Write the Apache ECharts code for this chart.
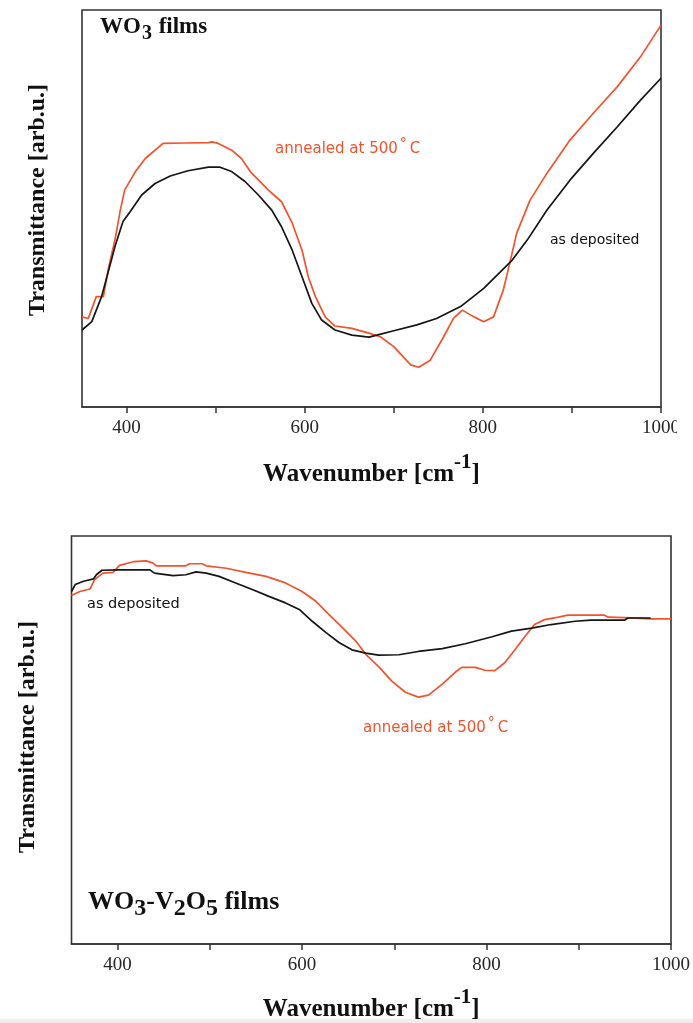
<!DOCTYPE html>
<html>
<head>
<meta charset="utf-8">
<script src="https://cdn.jsdelivr.net/npm/echarts@6/dist/echarts.min.js"></script>
<style>
  html, body { margin: 0; padding: 0; background: #ffffff; }
  #chart { width: 693px; height: 1023px; }
</style>
</head>
<body>
<div id="chart"></div>
<script>
// ---------- DATA ----------
// Top panel: WO3 films
const topWnAsDep = [350,361,372,380,387,396,404,417,432,449,469,492,505,518,533,548,563,574,586,597,608,619,634,653,672,681,700,726,748,775,801,816,833,850,872,898,924,951,977,1000];
const topTAsDep  = [19.4,21.5,27.8,34.5,40.4,46.7,49.2,53.4,56.3,58.2,59.5,60.4,60.4,59.3,56.8,53.4,49.6,45.4,39.5,32.8,26.1,21.9,19.4,18.1,17.6,18.1,19.2,20.7,22.3,25.3,29.9,33.2,37.0,42.1,49.6,57.2,63.9,70.6,77.3,82.8];

const topWnAnn = [350,357,366,374,380,387,393,398,410,421,441,465,492,496,503,518,529,539,559,574,586,597,604,612,623,634,653,672,685,700,719,728,741,756,767,777,790,801,812,823,831,838,853,872,898,924,951,977,1000];
const topTAnn  = [22.7,22.3,27.8,27.8,35.3,42.1,49.6,54.7,59.3,62.6,66.4,66.5,66.6,66.8,66.4,64.7,62.6,59.3,54.7,51.7,46.3,39.5,32.8,27.8,22.7,20.4,19.8,18.6,17.7,15.2,10.6,10.0,11.8,17.7,22.3,24.4,22.7,21.5,22.7,29.5,37.0,43.8,52.1,58.9,67.3,74.0,80.7,88.2,96.2];

// Bottom panel: WO3-V2O5 films
const botWnAsDep = [350,354,363,374,377,383,402,435,440,460,474,485,496,510,528,546,564,582,597,611,626,640,654,669,683,705,726,752,777,806,827,849,870,896,913,950,953,978];
const botTAsDep  = [86.4,88.1,88.9,89.5,90.5,91.6,91.7,91.7,90.9,90.3,90.5,91.2,90.9,90.1,88.5,86.9,85.2,83.6,82.0,79.1,76.3,73.9,72.1,71.3,70.8,70.9,71.7,72.4,73.6,75.3,76.7,77.4,78.3,79.1,79.4,79.4,79.9,79.9];

const botWnAnn = [350,359,370,375,384,395,402,417,431,438,442,474,478,492,496,518,539,561,582,600,615,629,644,658,669,683,697,712,726,737,752,766,773,788,798,809,820,831,842,852,863,878,888,928,932,950,978,1000];
const botTAnn  = [85.4,86.4,87.0,89.3,90.9,91.1,92.8,93.7,93.9,93.4,92.7,92.7,93.2,93.2,92.7,92.1,91.1,90.1,88.5,86.4,84.0,80.8,77.5,74.3,71.0,68.0,64.5,61.7,60.5,61.0,63.7,66.6,67.8,67.8,67.1,67.0,69.0,72.2,75.5,78.3,79.5,80.1,80.6,80.6,80.1,80.0,79.7,79.7];

const xTickValues  = [400,500,600,700,800,900,1000];
const xLabelValues = [400,600,800,1000];
const xMin = 350, xMax = 1000;

// ---------- STYLE ----------
const BLACK = '#151515';
const RED = '#f2532d';
const FRAME = '#333333';
const SERIF = "'Liberation Serif', 'Times New Roman', serif";
const SANS = "'DejaVu Sans', sans-serif";

function pairs(xs, ys) { return xs.map((x, i) => [x, ys[i]]); }

function xAxisFor(gridIndex, gap) {
  return {
    type: 'value', gridIndex: gridIndex, min: xMin, max: xMax,
    axisLine: { show: true, onZero: false, lineStyle: { color: FRAME, width: 1.6 } },
    axisTick: { show: true, inside: false, length: 6, customValues: xTickValues, lineStyle: { color: FRAME, width: 1.5 } },
    axisLabel: { show: true, customValues: xLabelValues, margin: 12, fontFamily: SERIF, fontSize: 19, color: '#262626',
                 formatter: function (v) { return String(v); } },
    splitLine: { show: false },
    name: '{s|Wavenumber [cm}{p|-1}{s|]}',
    nameLocation: 'middle',
    nameGap: gap,
    nameTextStyle: {
      rich: {
        s: { fontFamily: SERIF, fontWeight: 'bold', fontSize: 25, lineHeight: 25, padding: [10, 0, 0, 0], verticalAlign: 'top', color: '#111' },
        p: { fontFamily: SERIF, fontWeight: 'bold', fontSize: 21, lineHeight: 25, verticalAlign: 'top', color: '#111' }
      }
    }
  };
}

function yAxisFor(gridIndex, padLeft) {
  return {
    type: 'value', gridIndex: gridIndex, min: 0, max: 100,
    axisLine: { show: false }, axisTick: { show: false }, axisLabel: { show: false }, splitLine: { show: false },
    name: 'Transmittance [arb.u.]',
    nameLocation: 'middle', nameRotate: 90, nameGap: 32,
    nameTextStyle: { fontFamily: SERIF, fontWeight: 'bold', fontSize: 24, color: '#111', padding: [0, 0, 0, padLeft] }
  };
}

function lineSeries(name, xi, data, color) {
  return {
    type: 'line', name: name, xAxisIndex: xi, yAxisIndex: xi,
    data: data, showSymbol: false, symbol: 'none', smooth: false,
    lineStyle: { color: color, width: 1.7 }, itemStyle: { color: color },
    animation: false, z: color === RED ? 3 : 4
  };
}

const annRich = {
  t: { fontFamily: SANS, fontSize: 15, lineHeight: 16, padding: [5, 0, 0, 0], verticalAlign: 'top', fill: RED },
  d: { fontFamily: SANS, fontSize: 14, lineHeight: 16, padding: [0, 3, 0, 2], verticalAlign: 'top', fill: RED }
};

const chart = echarts.init(document.getElementById('chart'), null, { renderer: 'canvas' });
chart.setOption({
  backgroundColor: '#ffffff',
  animation: false,
  grid: [
    { left: 82, top: 10, width: 579, height: 397, show: true, borderColor: FRAME, borderWidth: 1.6, backgroundColor: 'transparent' },
    { left: 71.5, top: 536, width: 602, height: 410.7, show: true, borderColor: FRAME, borderWidth: 1.6, backgroundColor: 'transparent' }
  ],
  xAxis: [ xAxisFor(0, 45), xAxisFor(1, 43) ],
  yAxis: [ yAxisFor(0, 17), yAxisFor(1, 6) ],
  series: [
    lineSeries('annealed at 500°C', 0, pairs(topWnAnn, topTAnn), RED),
    lineSeries('as deposited', 0, pairs(topWnAsDep, topTAsDep), BLACK),
    lineSeries('annealed at 500°C', 1, pairs(botWnAnn, botTAnn), RED),
    lineSeries('as deposited', 1, pairs(botWnAsDep, botTAsDep), BLACK)
  ],
  graphic: [
    // panel labels
    { type: 'text', x: 100, y: 16, z: 10, style: {
        text: '{m|WO}{s|3}{m| films}', textAlign: 'left', textVerticalAlign: 'top',
        rich: {
          m: { fontFamily: SERIF, fontWeight: 'bold', fontSize: 23, lineHeight: 23, verticalAlign: 'top', fill: '#111' },
          s: { fontFamily: SERIF, fontWeight: 'bold', fontSize: 20, lineHeight: 23, padding: [8, 1, 0, 1], verticalAlign: 'top', fill: '#111' }
        } } },
    { type: 'text', x: 88, y: 889, z: 10, style: {
        text: '{m|WO}{s|3}{m|-V}{s|2}{m|O}{s|5}{m| films}', textAlign: 'left', textVerticalAlign: 'top',
        rich: {
          m: { fontFamily: SERIF, fontWeight: 'bold', fontSize: 26, lineHeight: 26, verticalAlign: 'top', fill: '#111' },
          s: { fontFamily: SERIF, fontWeight: 'bold', fontSize: 24, lineHeight: 26, padding: [8, 0, 0, 0], verticalAlign: 'top', fill: '#111' }
        } } },
    // curve annotations
    { type: 'text', x: 275, y: 137, z: 10, style: {
        text: '{t|annealed at 500}{d|°}{t|C}', textAlign: 'left', textVerticalAlign: 'top', rich: annRich } },
    { type: 'text', x: 550, y: 240, z: 10, style: {
        text: 'as deposited', textAlign: 'left', textVerticalAlign: 'middle',
        font: '14px ' + SANS, fill: '#111' } },
    { type: 'text', x: 87, y: 604, z: 10, style: {
        text: 'as deposited', textAlign: 'left', textVerticalAlign: 'middle',
        font: '14.5px ' + SANS, fill: '#111' } },
    { type: 'text', x: 363, y: 716, z: 10, style: {
        text: '{t|annealed at 500}{d|°}{t|C}', textAlign: 'left', textVerticalAlign: 'top', rich: annRich } },
    // cropped edge of the original figure (right of top panel labels)
    { type: 'rect', z: 20, shape: { x: 677, y: 413, width: 16, height: 35 }, style: { fill: '#ffffff' } },
    // light strip at the very bottom of the page
    { type: 'rect', z: 20, shape: { x: 0, y: 1019, width: 693, height: 4 }, style: { fill: '#eeeeee' } }
  ]
});
</script>
</body>
</html>
